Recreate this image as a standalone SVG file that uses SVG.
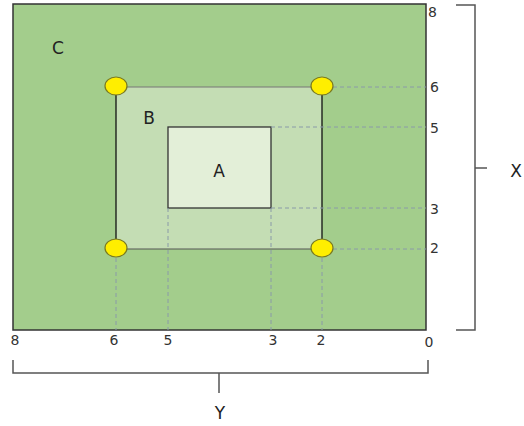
<svg xmlns="http://www.w3.org/2000/svg" width="524" height="426" viewBox="0 0 524 426">
<style>
.t{font-family:"DejaVu Sans","Liberation Sans",sans-serif;font-size:14px;fill:#333}
.l{font-family:"DejaVu Sans","Liberation Sans",sans-serif;font-size:17px;fill:#222}
.d{stroke:#8a9aa8;stroke-width:1;stroke-dasharray:4 3;fill:none}
.br{stroke:#555;stroke-width:1.5;fill:none}
.pt{fill:#ffee00;stroke:#7a7a20;stroke-width:1.2}
</style>
<rect width="524" height="426" fill="#fff"/>
<g id="C">
<rect x="13" y="4" width="413" height="326" fill="#a3cd8c" stroke="#333" stroke-width="1.5"/>
<text class="l" x="58" y="54" text-anchor="middle">C</text>
</g>
<g id="B">
<rect x="116" y="87" width="206" height="162" fill="#c4ddb4"/>
<line x1="116" y1="87" x2="322" y2="87" stroke="#777" stroke-width="1"/>
<line x1="116" y1="249" x2="322" y2="249" stroke="#555" stroke-width="1"/>
<line x1="116" y1="87" x2="116" y2="249" stroke="#111" stroke-width="1.3"/>
<line x1="322" y1="87" x2="322" y2="249" stroke="#111" stroke-width="1.3"/>
<text class="l" x="149" y="124" text-anchor="middle">B</text>
</g>
<g id="A">
<rect x="168" y="127" width="103" height="81" fill="#e3efd8" stroke="#333" stroke-width="1.3"/>
<text class="l" x="219" y="177" text-anchor="middle">A</text>
</g>
<g id="connectors">
<line class="d" x1="333" y1="87" x2="426" y2="87"/>
<line class="d" x1="271" y1="127" x2="426" y2="127"/>
<line class="d" x1="271" y1="208" x2="426" y2="208"/>
<line class="d" x1="333" y1="249" x2="426" y2="249"/>
<line class="d" x1="116" y1="258" x2="116" y2="330"/>
<line class="d" x1="168" y1="208" x2="168" y2="330"/>
<line class="d" x1="271" y1="208" x2="271" y2="330"/>
<line class="d" x1="322" y1="258" x2="322" y2="330"/>
<path class="br" d="M456,5 H475 V330 H456 M475,168 H487"/>
<path class="br" d="M13,360 V373 H428 V360 M219,373 V393"/>
</g>
<g id="points">
<ellipse class="pt" cx="116" cy="86" rx="11" ry="9"/>
<ellipse class="pt" cx="322" cy="86" rx="11" ry="9"/>
<ellipse class="pt" cx="116" cy="248" rx="11" ry="9"/>
<ellipse class="pt" cx="322" cy="248" rx="11" ry="9"/>
</g>
<g id="axis-labels">
<text class="t" x="428" y="17">8</text>
<text class="t" x="430" y="92">6</text>
<text class="t" x="430" y="133">5</text>
<text class="t" x="430" y="214">3</text>
<text class="t" x="430" y="253">2</text>
<text class="t" x="15" y="345" text-anchor="middle">8</text>
<text class="t" x="114" y="345" text-anchor="middle">6</text>
<text class="t" x="168" y="345" text-anchor="middle">5</text>
<text class="t" x="273" y="345" text-anchor="middle">3</text>
<text class="t" x="321" y="345" text-anchor="middle">2</text>
<text class="t" x="429" y="347" text-anchor="middle">0</text>
<text class="l" x="516" y="177" text-anchor="middle">X</text>
<text class="l" x="220" y="419" text-anchor="middle">Y</text>
</g>
</svg>
